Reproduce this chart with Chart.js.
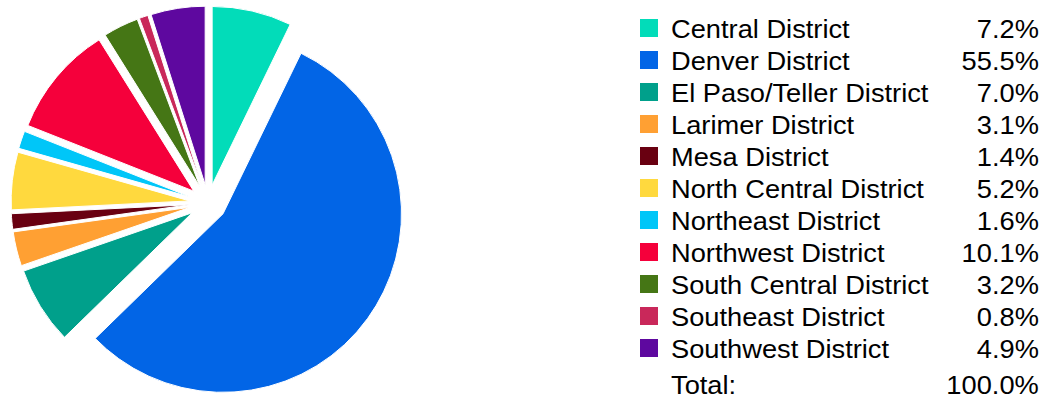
<!DOCTYPE html>
<html lang="en">
<head>
    <meta charset="UTF-8">
    <title>Districts - share</title>
    <style>
        body { margin: 0; width: 1042px; height: 396px; position: relative; background: #fff; font-family: "Liberation Sans", Arial, sans-serif; overflow: hidden; }
        #pie-box { position: absolute; left: 0; top: 0; width: 416px; height: 396px; }
        #legend { position: absolute; left: 640px; top: 13px; width: 400px; }
        .row { position: relative; height: 32px; line-height: 32px; font-size: 25px; color: #000; white-space: nowrap; }
        .row .swatch { position: absolute; left: 0; top: 6px; width: 18px; height: 18px; }
        .row .name { position: absolute; left: 31px; transform: scaleX(1.09); transform-origin: left center; }
        .row .pct { position: absolute; right: 1px; transform: scaleX(1.09); transform-origin: right center; }
        .row.total { margin-top: 3.5px; }
    </style>
</head>
<body>
<div id="pie-box"><canvas id="pie"></canvas></div>
<div id="legend"></div>

<script src="https://cdn.jsdelivr.net/npm/chart.js@4.4.1/dist/chart.umd.min.js"></script>
<script>
const districts = [
    "Central District", "Denver District", "El Paso/Teller District", "Larimer District",
    "Mesa District", "North Central District", "Northeast District", "Northwest District",
    "South Central District", "Southeast District", "Southwest District"
];
const shares = [7.2, 55.5, 7.0, 3.1, 1.4, 5.2, 1.6, 10.1, 3.2, 0.8, 4.9];
const colors = [
    "#02dcb9", "#0265e6", "#00a08b", "#ffa033", "#690011", "#ffd93e",
    "#00c6f8", "#f5003b", "#457615", "#c9285a", "#5e089f"
];

// every slice is pulled out from the centre by the same distance
const SHIFT = 18.5;
const explode = {
    id: "explode",
    beforeDatasetDraw(chart, args) {
        const ctx = chart.ctx;
        args.meta.data.forEach(arc => {
            const mid = (arc.startAngle + arc.endAngle) / 2;
            ctx.save();
            ctx.translate(Math.cos(mid) * SHIFT, Math.sin(mid) * SHIFT);
            arc.draw(ctx, chart.chartArea);
            ctx.restore();
        });
        return false;
    }
};

new Chart("pie", {
    type: "pie",
    data: {
        labels: districts,
        datasets: [{
            data: shares,
            backgroundColor: colors,
            borderColor: "#ffffff",
            borderWidth: 1,
        }],
    },
    options: {
        responsive: true,
        maintainAspectRatio: false,
        animation: false,
        layout: { padding: { top: 24, bottom: 14, left: 0, right: 0 } },
        plugins: {
            legend: { display: false },
            tooltip: { enabled: false },
        },
    },
    plugins: [explode],
});

// legend with the share of each district
const legend = document.getElementById("legend");
districts.forEach((name, i) => {
    const row = document.createElement("div");
    row.className = "row";
    row.innerHTML = `<span class="swatch" style="background:${colors[i]}"></span>` +
        `<span class="name">${name}</span><span class="pct">${shares[i].toFixed(1)}%</span>`;
    legend.appendChild(row);
});
const total = shares.reduce((a, b) => a + b, 0);
const totalRow = document.createElement("div");
totalRow.className = "row total";
totalRow.innerHTML = `<span class="name">Total:</span><span class="pct">${total.toFixed(1)}%</span>`;
legend.appendChild(totalRow);
</script>
</body>
</html>
